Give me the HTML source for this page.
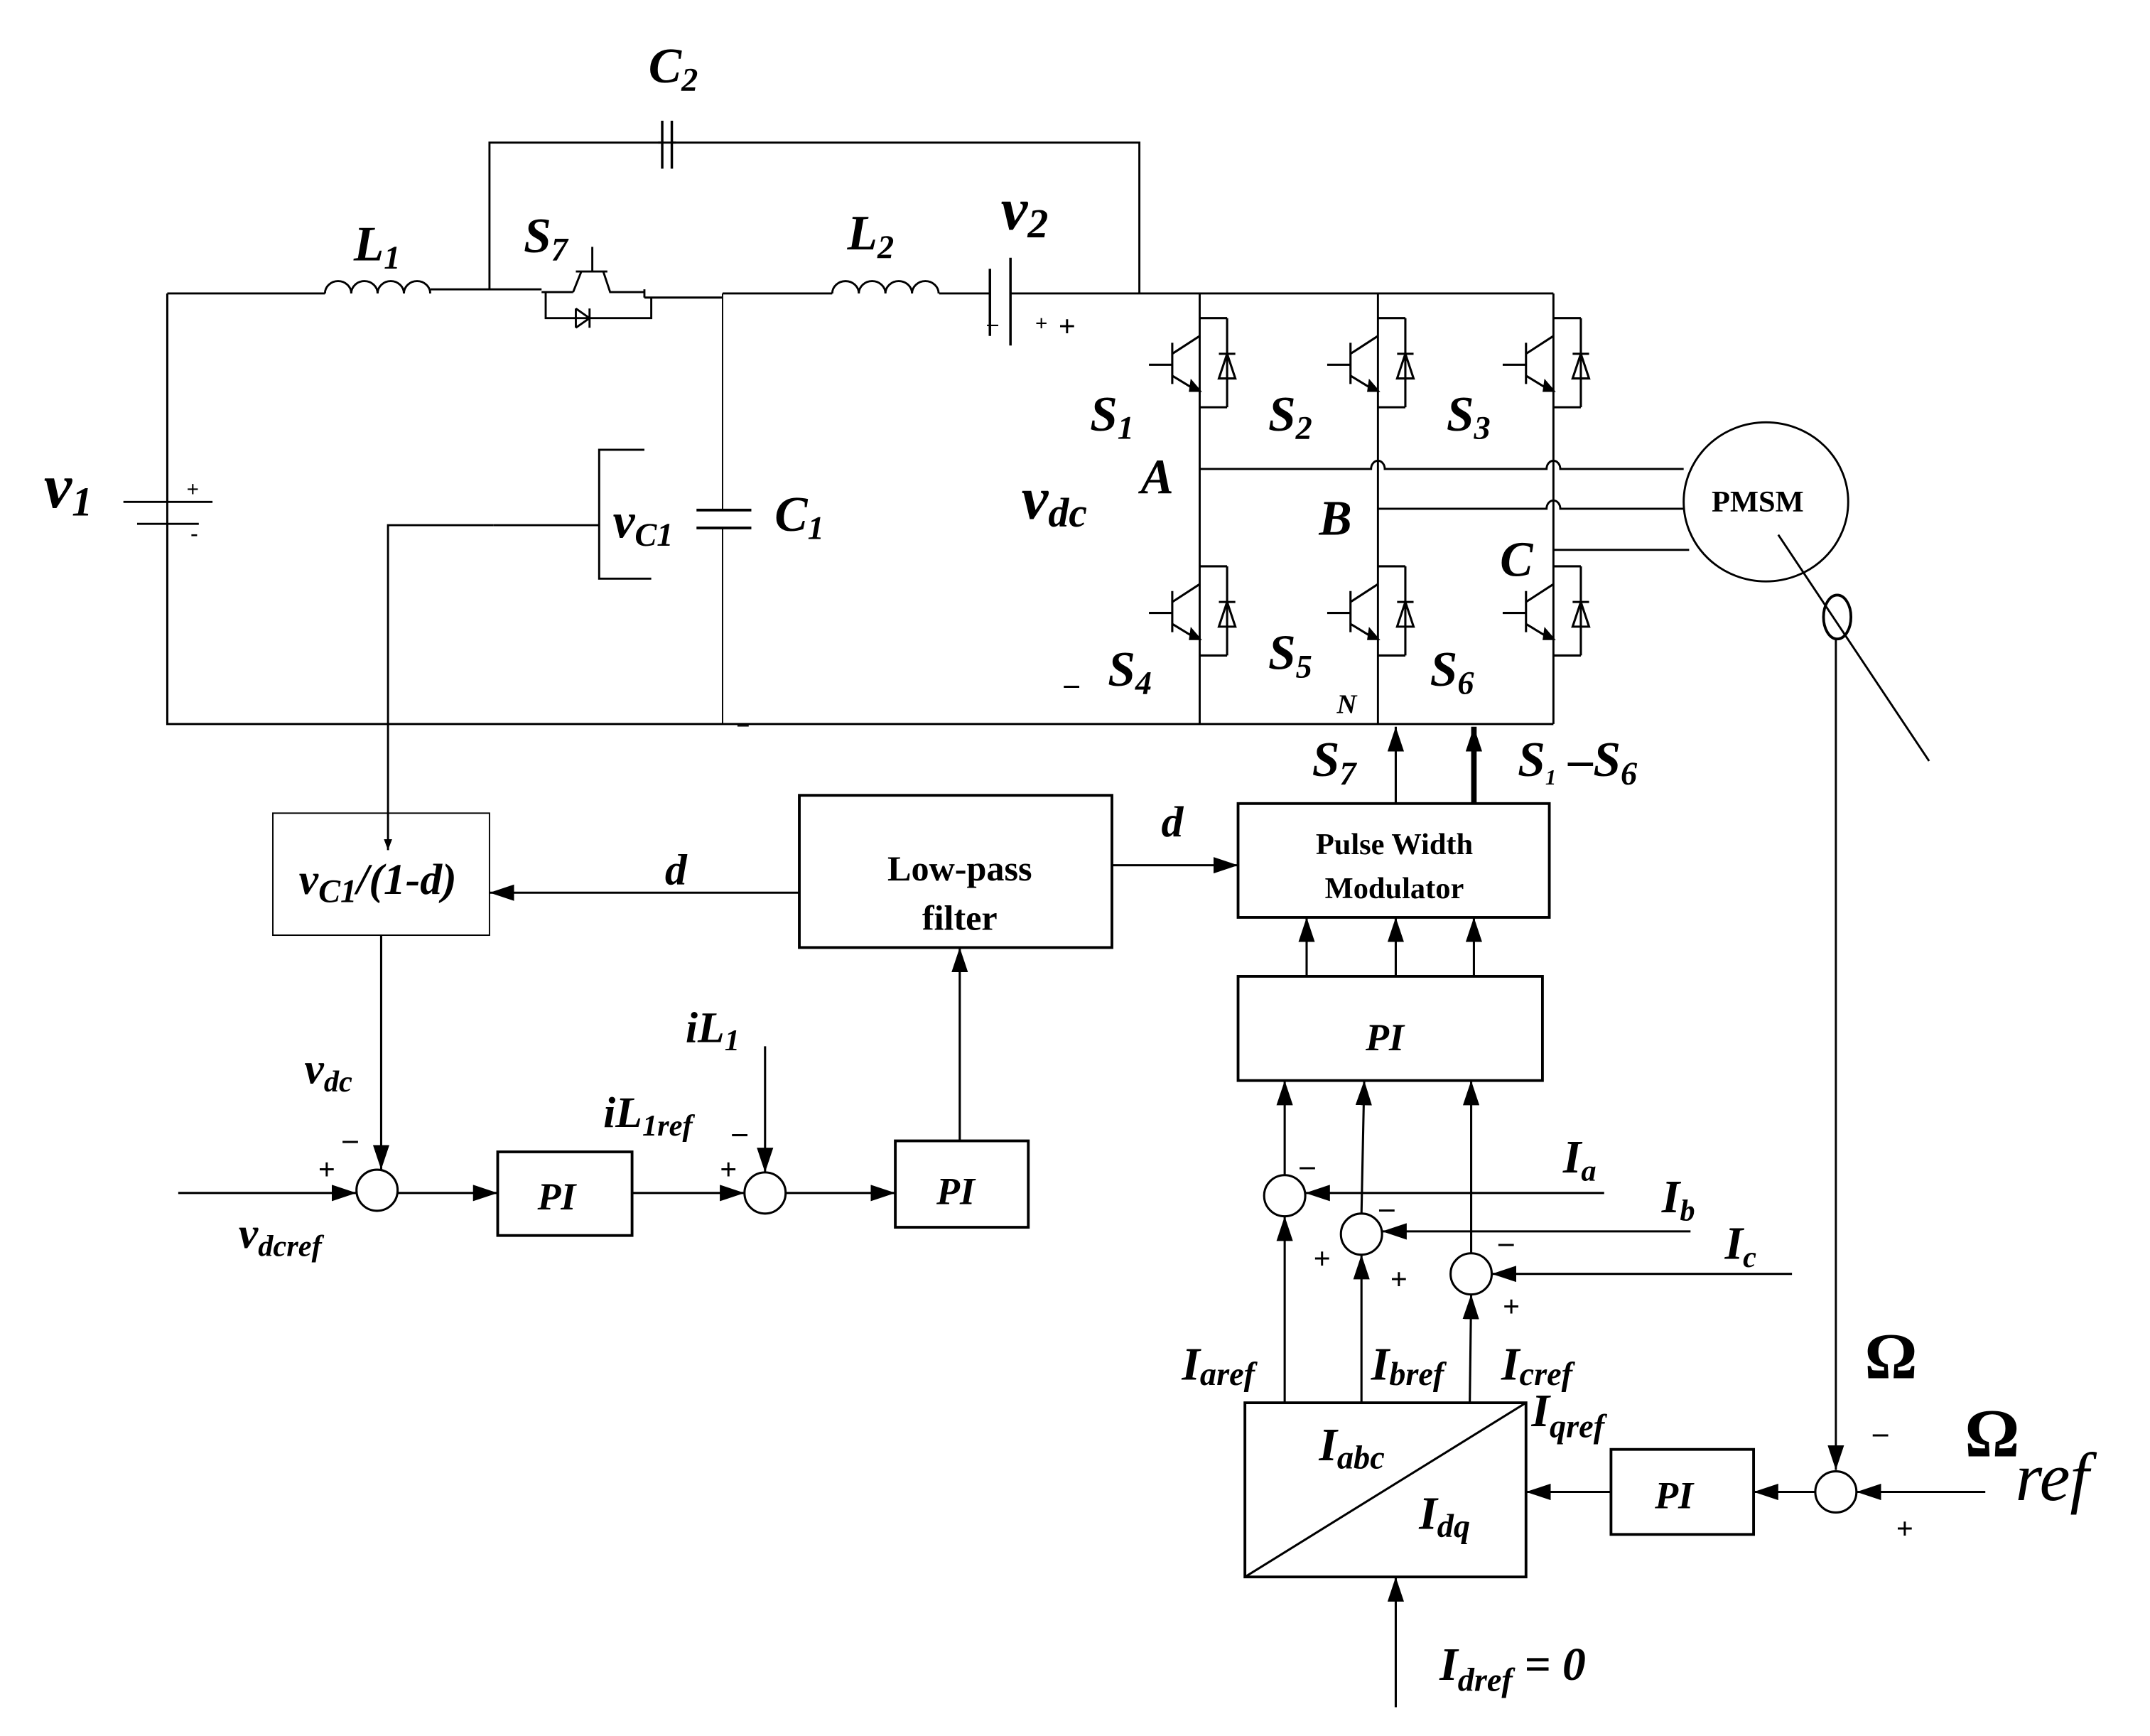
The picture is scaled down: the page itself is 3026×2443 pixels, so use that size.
<!DOCTYPE html>
<html><head><meta charset="utf-8"><style>
html,body{margin:0;padding:0;background:#fff}
svg{display:block}
text{font-family:"Liberation Serif",serif;font-weight:bold;font-style:italic;fill:#000}
.n{font-style:normal}
</style></head><body>
<svg width="3026" height="2443" viewBox="0 0 1568 1266" preserveAspectRatio="xMinYMin meet" xmlns="http://www.w3.org/2000/svg">
<defs>
<marker id="a" markerWidth="8" markerHeight="6" refX="8" refY="3" orient="auto" markerUnits="userSpaceOnUse" viewBox="0 0 8 6"><path d="M0,0 L8,3 L0,6z" fill="#000"/></marker>
<marker id="b" markerWidth="18" markerHeight="12" refX="18" refY="6" orient="auto" markerUnits="userSpaceOnUse" viewBox="0 0 18 12"><path d="M0,0 L18,6 L0,12z" fill="#000"/></marker>
<g id="sw" fill="none" stroke="#000" stroke-width="1.6">
<path d="M0,18 H20 M0,83 H20 M20,18 V83"/>
<path d="M-37,52 H-20 M-20,36 V66 M-20,44 L0,31 M-20,60 L-2,71"/>
<path d="M14,44 H26 M14,62 H26 L20,44 Z"/>
<path d="M-6,64 L0,71 L-7,71 Z" fill="#000"/>
</g>
</defs>
<g fill="none" stroke="#000" stroke-width="1.5">
<path d="M122,214 H237 M314,211 H395 M122,214 V528 H527 M527,528 H1133"/>
<path d="M237,214 a9.6,9 0 0 1 19.2,0 a9.6,9 0 0 1 19.2,0 a9.6,9 0 0 1 19.2,0 a9.6,9 0 0 1 19.2,0"/>
<path d="M357,211 V104 H831 V214"/>
<path d="M480,104 H483 M490,104 H493"/>
<path d="M483,88 V123 M490,88 V123" stroke-width="1.8"/>
<path d="M420,198 H443 M432,180 V198 M424,198 L418,213 M440,198 L445,213 H470 M470,211 V217 M470,217 H527"/>
<path d="M395,213 H418 M398,213 V232 H475 V217 M420,225 V239 M420,225 L430,232 L420,239 M430,225 V239"/>
<path d="M527,214 H607 M685,214 H722 M737,214 H875 M875,214 H1133"/>
<path d="M607,214 a9.7,9 0 0 1 19.4,0 a9.7,9 0 0 1 19.4,0 a9.7,9 0 0 1 19.4,0 a9.7,9 0 0 1 19.4,0"/>
<path d="M722,196 V245 M737,188 V252" stroke-width="1.8"/>
<path d="M527,214 V372 M527,385 V528" stroke-width="1"/>
<path d="M508,372 H548 M508,385 H548" stroke-width="2"/>
<path d="M90,366 H155 M100,382 H145 M122,214 V366 M122,382 V528" />
<path d="M470,328 H437 V422 H475 M437,383 H360"/>
<path d="M360,383 H283 V620" marker-end="url(#a)"/>
<path d="M875,214 V528 M1005,214 V528 M1133,214 V528"/>
<path d="M875,342 H1000 a5,6 0 0 1 10,0 H1128 a5,6 0 0 1 10,0 H1228"/>
<path d="M1005,371 H1128 a5,6 0 0 1 10,0 H1228"/>
<path d="M1133,401 H1232"/>
<ellipse cx="1288" cy="366" rx="60" ry="58"/>
<path d="M1297,390 L1407,555"/>
<ellipse cx="1340" cy="450" rx="10" ry="16" stroke-width="2"/>
<path d="M1339,466 V1072" marker-end="url(#b)"/>
</g>
<use href="#sw" x="875" y="214"/><use href="#sw" x="1005" y="214"/><use href="#sw" x="1133" y="214"/>
<use href="#sw" x="875" y="395"/><use href="#sw" x="1005" y="395"/><use href="#sw" x="1133" y="395"/>
<g fill="none" stroke="#000" stroke-width="1.6">
<rect x="199" y="593" width="158" height="89" stroke-width="1"/>
<rect x="583" y="580" width="228" height="111" stroke-width="2"/>
<rect x="903" y="586" width="227" height="83" stroke-width="2"/>
<rect x="903" y="712" width="222" height="76" stroke-width="2"/>
<rect x="363" y="840" width="98" height="61" stroke-width="2"/>
<rect x="653" y="832" width="97" height="63" stroke-width="2"/>
<rect x="908" y="1023" width="205" height="127" stroke-width="2"/>
<path d="M908,1150 L1113,1023"/>
<rect x="1175" y="1057" width="104" height="62" stroke-width="2"/>
<path d="M583,651 H357" marker-end="url(#b)"/>
<path d="M811,631 H903" marker-end="url(#b)"/>
<path d="M1018,586 V530" marker-end="url(#b)"/>
<path d="M1075,586 V530" marker-end="url(#b)" stroke-width="4"/>
<path d="M953,712 V669" marker-end="url(#b)"/>
<path d="M1018,712 V669" marker-end="url(#b)"/>
<path d="M1075,712 V669" marker-end="url(#b)"/>
<circle cx="937" cy="872" r="15"/><circle cx="993" cy="900" r="15"/><circle cx="1073" cy="929" r="15"/>
<path d="M937,857 V788" marker-end="url(#b)"/>
<path d="M993,885 L995,788" marker-end="url(#b)"/>
<path d="M1073,914 V788" marker-end="url(#b)"/>
<path d="M1170,870 H952" marker-end="url(#b)"/>
<path d="M1233,898 H1008" marker-end="url(#b)"/>
<path d="M1307,929 H1088" marker-end="url(#b)"/>
<path d="M937,1023 V887" marker-end="url(#b)"/>
<path d="M993,1023 V915" marker-end="url(#b)"/>
<path d="M1072,1023 L1073,944" marker-end="url(#b)"/>
<circle cx="1339" cy="1088" r="15"/>
<path d="M1448,1088 H1354" marker-end="url(#b)"/>
<path d="M1324,1088 H1279" marker-end="url(#b)"/>
<path d="M1175,1088 H1113" marker-end="url(#b)"/>
<path d="M1018,1245 V1150" marker-end="url(#b)"/>
<circle cx="275" cy="868" r="15"/><circle cx="558" cy="870" r="15"/>
<path d="M130,870 H260" marker-end="url(#b)"/>
<path d="M278,682 V853" marker-end="url(#b)"/>
<path d="M290,870 H363" marker-end="url(#b)"/>
<path d="M461,870 H543" marker-end="url(#b)"/>
<path d="M558,763 V855" marker-end="url(#b)"/>
<path d="M573,870 H653" marker-end="url(#b)"/>
<path d="M700,832 V691" marker-end="url(#b)"/>
</g>
<g font-size="36">
<text x="473" y="60">C<tspan font-size="24" dy="6">2</tspan></text>
<text x="258" y="190">L<tspan font-size="24" dy="6">1</tspan></text>
<text x="382" y="184">S<tspan font-size="24" dy="6">7</tspan></text>
<text x="618" y="182">L<tspan font-size="24" dy="6">2</tspan></text>
<text x="730" y="167" font-size="44">v<tspan font-size="30" dy="6">2</tspan></text>
<text x="32" y="370" font-size="46">v<tspan font-size="30" dy="6">1</tspan></text>
<text x="447" y="392">v<tspan font-size="24" dy="6">C1</tspan></text>
<text x="565" y="387">C<tspan font-size="24" dy="6">1</tspan></text>
<text x="745" y="378" font-size="44">v<tspan font-size="30" dy="6">dc</tspan></text>
<text x="795" y="314">S<tspan font-size="24" dy="6">1</tspan></text>
<text x="925" y="314">S<tspan font-size="24" dy="6">2</tspan></text>
<text x="1055" y="314">S<tspan font-size="24" dy="6">3</tspan></text>
<text x="832" y="360">A</text>
<text x="962" y="390">B</text>
<text x="1094" y="420">C</text>
<text x="925" y="488">S<tspan font-size="24" dy="6">5</tspan></text>
<text x="808" y="500">S<tspan font-size="24" dy="6">4</tspan></text>
<text x="1043" y="500">S<tspan font-size="24" dy="6">6</tspan></text>
<text x="975" y="520" font-size="20">N</text>
<text x="957" y="566">S<tspan font-size="24" dy="6">7</tspan></text>
<text x="1107" y="566">S<tspan font-size="16" dy="6">1</tspan><tspan dy="-6"> –S</tspan><tspan font-size="24" dy="6">6</tspan></text>
<text x="485" y="645" font-size="32">d</text>
<text x="847" y="610" font-size="32">d</text>
<text x="218" y="652" font-size="32">v<tspan font-size="24" dy="6">C1</tspan><tspan dy="-6">/(1-d)</tspan></text>
<text x="222" y="790" font-size="32">v<tspan font-size="22" dy="6">dc</tspan></text>
<text x="174" y="910" font-size="32">v<tspan font-size="22" dy="6">dcref</tspan></text>
<text x="500" y="760" font-size="32">iL<tspan font-size="22" dy="6">1</tspan></text>
<text x="440" y="822" font-size="32">iL<tspan font-size="22" dy="6">1ref</tspan></text>
<text x="392" y="882" font-size="28">PI</text>
<text x="683" y="878" font-size="28">PI</text>
<text x="996" y="766" font-size="28">PI</text>
<text x="1207" y="1100" font-size="28">PI</text>
<text x="1140" y="855" font-size="34">I<tspan font-size="22" dy="6">a</tspan></text>
<text x="1212" y="884" font-size="34">I<tspan font-size="22" dy="6">b</tspan></text>
<text x="1258" y="918" font-size="34">I<tspan font-size="22" dy="6">c</tspan></text>
<text x="862" y="1006" font-size="34">I<tspan font-size="24" dy="4">aref</tspan></text>
<text x="1000" y="1006" font-size="34">I<tspan font-size="24" dy="4">bref</tspan></text>
<text x="1095" y="1006" font-size="34">I<tspan font-size="24" dy="4">cref</tspan></text>
<text x="1117" y="1040" font-size="34">I<tspan font-size="24" dy="8">qref</tspan></text>
<text x="962" y="1065" font-size="34">I<tspan font-size="24" dy="6">abc</tspan></text>
<text x="1035" y="1115" font-size="34">I<tspan font-size="24" dy="6">dq</tspan></text>
<text x="1050" y="1225" font-size="34">I<tspan font-size="24" dy="8">dref</tspan><tspan dy="-8"> = 0</tspan></text>
<text class="n" x="1360" y="1005" font-size="48">Ω</text>
<text class="n" x="1433" y="1062" font-size="50">Ω</text>
<text x="1470" y="1094" font-size="50" style="font-weight:normal">ref</text>
</g>
<g font-size="22">
<text class="n" x="136" y="362" font-size="16">+</text>
<text class="n" x="139" y="394" font-size="16">-</text>
<text class="n" x="720" y="241" font-size="16">–</text>
<text class="n" x="755" y="241" font-size="16">+</text>
<text class="n" x="772" y="245">+</text>
<text class="n" x="776" y="506">–</text>
<text class="n" x="538" y="533" font-size="16">–</text>
<text class="n" x="232" y="860">+</text>
<text class="n" x="250" y="838">–</text>
<text class="n" x="525" y="860">+</text>
<text class="n" x="534" y="833">–</text>
<text class="n" x="948" y="857">–</text>
<text class="n" x="1006" y="888">–</text>
<text class="n" x="1093" y="913">–</text>
<text class="n" x="958" y="925">+</text>
<text class="n" x="1014" y="940">+</text>
<text class="n" x="1096" y="960">+</text>
<text class="n" x="1366" y="1052">–</text>
<text class="n" x="1383" y="1122">+</text>
</g>
<text x="700" y="642" font-size="26" class="n" text-anchor="middle">Low-pass</text>
<text x="700" y="678" font-size="26" class="n" text-anchor="middle">filter</text>
<text x="1017" y="623" font-size="22" class="n" text-anchor="middle">Pulse Width</text>
<text x="1017" y="655" font-size="22" class="n" text-anchor="middle">Modulator</text>
<text x="1282" y="373" font-size="22" class="n" text-anchor="middle">PMSM</text>
</svg>
</body></html>
